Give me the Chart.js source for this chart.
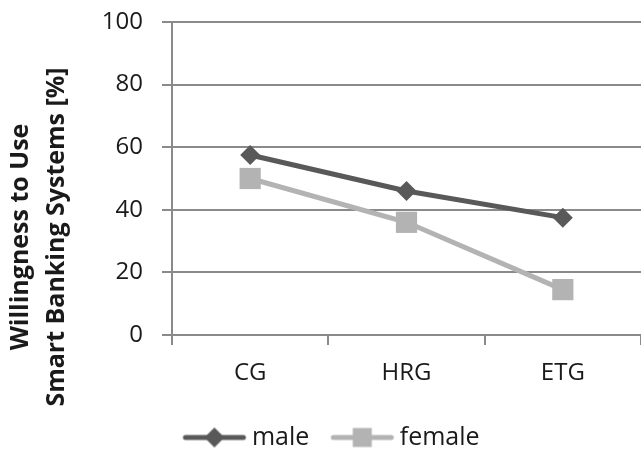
<!DOCTYPE html>
<html>
<head>
<meta charset="utf-8">
<script src="https://cdn.jsdelivr.net/npm/chart.js@4"></script>
<style>
  html, body { margin: 0; padding: 0; background: #fff; }
</style>
</head>
<body>
<canvas id="chart" width="641" height="450"></canvas>
<script>
const categories = ['CG', 'HRG', 'ETG'];
const maleValues = [57.5, 46, 37.5];
const femaleValues = [50, 36, 14.5];
const seriesNames = ['male', 'female'];
const yMin = 0, yMax = 100, yStep = 20;
const axisTitle = ['Willingness to Use', 'Smart Banking Systems [%]'];

const MALE = '#595959',
    FEMALE = '#b3b3b3',
    GRID = '#8a8a8a',
    TEXT = '#1a1a1a',
    FONT = '"Open Sans", "DejaVu Sans", sans-serif';

// line + marker swatch for the legend, like the spreadsheet legend
const legendIcon = (color, shape) => {
    const c = document.createElement('canvas');
    c.width = 70;
    c.height = 24;
    const ctx = c.getContext('2d');
    ctx.strokeStyle = color;
    ctx.fillStyle = color;
    ctx.lineWidth = 5;
    ctx.lineCap = 'round';
    ctx.beginPath();
    ctx.moveTo(6, 12);
    ctx.lineTo(64, 12);
    ctx.stroke();
    ctx.beginPath();
    if ( shape === 'diamond' ) {
        ctx.moveTo(35, 2);
        ctx.lineTo(45, 12);
        ctx.lineTo(35, 22);
        ctx.lineTo(25, 12);
        ctx.closePath();
    } else {
        ctx.rect(25.5, 2.5, 19, 19);
    }
    ctx.fill();
    return c;
};

const icons = [legendIcon(MALE, 'diamond'), legendIcon(FEMALE, 'square')];

// rotated two-line axis title, placed where the original has it
const axisTitlePlugin = {
    id: 'axisTitle',
    afterDraw(chart) {
        const ctx = chart.ctx;
        ctx.save();
        ctx.translate(0, 237);
        ctx.rotate(-Math.PI / 2);
        ctx.fillStyle = TEXT;
        ctx.font = 'bold 25px ' + FONT;
        ctx.textAlign = 'center';
        ctx.textBaseline = 'alphabetic';
        ctx.fillText(axisTitle[0], 0, 28);
        ctx.fillText(axisTitle[1], 0, 64);
        ctx.restore();
    }
};

// move the legend to where the original sits
const legendShift = {
    id: 'legendShift',
    afterLayout(chart) {
        chart.legend.left += 14;
        chart.legend.right += 14;
        chart.legend.top += 10;
        chart.legend.bottom += 10;
    }
};

new Chart(document.getElementById('chart'), {
    type: 'line',
    data: {
        labels: categories,
        datasets: [
            {
                label: seriesNames[0],
                data: maleValues,
                borderColor: MALE,
                backgroundColor: MALE,
                borderWidth: 5,
                pointStyle: 'rectRot',
                pointRadius: 10,
                pointBorderWidth: 0,
                tension: 0
            },
            {
                label: seriesNames[1],
                data: femaleValues,
                borderColor: FEMALE,
                backgroundColor: FEMALE,
                borderWidth: 5,
                pointStyle: 'rect',
                pointRadius: 15,
                pointBorderWidth: 0,
                tension: 0
            }
        ]
    },
    options: {
        responsive: false,
        animation: false,
        events: [],
        layout: {
            autoPadding: false,
            padding: { top: 22, right: 0, bottom: 0, left: 0 }
        },
        plugins: {
            tooltip: { enabled: false },
            title: { display: false },
            legend: {
                display: true,
                position: 'bottom',
                labels: {
                    usePointStyle: true,
                    pointStyleWidth: 50,
                    padding: 28,
                    color: TEXT,
                    font: { family: FONT, size: 25 },
                    generateLabels: (chart) => chart.data.datasets.map((ds, i) => ({
                        text: ds.label,
                        pointStyle: icons[i],
                        fillStyle: ds.borderColor,
                        strokeStyle: ds.borderColor,
                        lineWidth: 0,
                        fontColor: TEXT,
                        hidden: false,
                        datasetIndex: i
                    }))
                }
            }
        },
        scales: {
            x: {
                offset: true,
                grid: {
                    offset: true,
                    drawOnChartArea: false,
                    drawTicks: true,
                    tickLength: 10,
                    color: GRID,
                    lineWidth: 2
                },
                border: { display: false },
                ticks: {
                    color: TEXT,
                    padding: 14,
                    font: { family: FONT, size: 24 }
                },
                afterFit: (scale) => { scale.height = 52; }
            },
            y: {
                min: yMin,
                max: yMax,
                grid: {
                    color: GRID,
                    lineWidth: 2,
                    tickLength: 10
                },
                border: { display: true, color: GRID, width: 2 },
                ticks: {
                    stepSize: yStep,
                    color: TEXT,
                    padding: 19,
                    font: { family: FONT, size: 24 }
                },
                afterFit: (scale) => {
                    scale.width = 172;
                    scale.paddingTop = 0;
                    scale.paddingBottom = 0;
                }
            }
        }
    },
    plugins: [axisTitlePlugin, legendShift]
});
</script>
</body>
</html>
